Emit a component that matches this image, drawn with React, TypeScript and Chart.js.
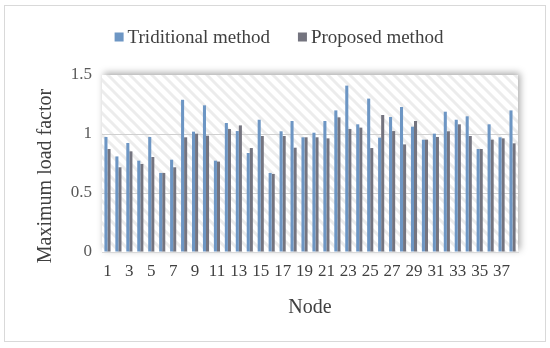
import React, { useEffect, useRef } from 'react';
import { Chart, registerables } from 'chart.js';
Chart.register(...registerables);

const nodes = ['1','2','3','4','5','6','7','8','9','10','11','12','13','14','15','16','17','18','19','20','21','22','23','24','25','26','27','28','29','30','31','32','33','34','35','36','37','38'];
const traditional = [0.975,0.81,0.924,0.774,0.975,0.67,0.782,1.29,1.02,1.243,0.774,1.093,1.025,0.839,1.121,0.67,1.023,1.11,0.972,1.011,1.11,1.2,1.41,1.082,1.3,0.969,1.144,1.229,1.062,0.952,1.003,1.189,1.121,1.15,0.873,1.082,0.972,1.2];
const proposed = [0.873,0.718,0.853,0.746,0.805,0.67,0.718,0.972,1.003,0.986,0.766,1.042,1.073,0.881,0.983,0.661,0.983,0.884,0.972,0.972,0.963,1.141,1.042,1.054,0.881,1.161,1.025,0.912,1.11,0.952,0.975,1.023,1.082,0.983,0.873,0.952,0.963,0.921];
const seriesNames = ['Triditional method', 'Proposed method'];
const seriesColors = ['#6d96c4', '#74747f'];
const yTitle = 'Maximum load factor';
const xTitle = 'Node';

const FONT = "'Liberation Serif', 'Times New Roman', serif";

export default function App() {
  const ref = useRef<HTMLCanvasElement>(null);
  useEffect(() => {
    document.body.style.margin = '0';
    const canvas = ref.current!;
    const tile = document.createElement('canvas');
    const s = 11;
    tile.width = s; tile.height = s;
    const tc = tile.getContext('2d')!;
    tc.fillStyle = '#ffffff'; tc.fillRect(0, 0, s, s);
    tc.strokeStyle = '#ececec'; tc.lineWidth = 3;
    for (const c of [-s, 0, s]) {
      tc.beginPath(); tc.moveTo(c - s, -s); tc.lineTo(c + 2 * s, 2 * s); tc.stroke();
    }
    const bgPlugin = {
      id: 'bgPlugin',
      beforeDraw(chart: any) {
        const c = chart.ctx; const a = chart.chartArea;
        c.save();
        c.fillStyle = '#ffffff'; c.fillRect(0, 0, chart.width, chart.height);
        c.strokeStyle = '#d9d9d9'; c.lineWidth = 1; c.strokeRect(4.5, 5.5, 541, 336);
        c.shadowColor = 'rgba(0,0,0,0.35)'; c.shadowBlur = 7; c.shadowOffsetX = 2; c.shadowOffsetY = -2;
        c.fillStyle = '#ffffff'; c.fillRect(a.left, a.top, a.right - a.left, a.bottom - a.top);
        c.shadowColor = 'transparent'; c.shadowBlur = 0; c.shadowOffsetX = 0; c.shadowOffsetY = 0;
        c.fillStyle = c.createPattern(tile, 'repeat');
        c.fillRect(a.left, a.top, a.right - a.left, a.bottom - a.top);
        c.restore();
      },
      afterDraw(chart: any) {
        const c = chart.ctx;
        c.save();
        c.font = `19px ${FONT}`;
        c.textBaseline = 'middle';
        c.textAlign = 'left';
        const box = 9, gapBT = 4, gapItems = 28;
        const widths = seriesNames.map((n) => c.measureText(n).width);
        const total = widths.reduce((p, w) => p + box + gapBT + w, 0) + gapItems * (seriesNames.length - 1);
        let x = 279 - total / 2;
        const ly = 37;
        seriesNames.forEach((n, i) => {
          c.fillStyle = seriesColors[i];
          c.fillRect(x, ly - box / 2, box, box);
          c.fillStyle = '#404040';
          c.fillText(n, x + box + gapBT, ly + 1);
          x += box + gapBT + widths[i] + gapItems;
        });
        c.translate(46, 176);
        c.rotate(-Math.PI / 2);
        c.textAlign = 'center';
        c.font = `20px ${FONT}`;
        c.fillStyle = '#404040';
        c.fillText(yTitle, 0, 0);
        c.restore();
      },
    };
    const chart = new Chart(canvas, {
      type: 'bar',
      data: {
        labels: nodes,
        datasets: [
          { label: seriesNames[0], data: traditional, backgroundColor: seriesColors[0], categoryPercentage: 0.56, barPercentage: 1 },
          { label: seriesNames[1], data: proposed, backgroundColor: seriesColors[1], categoryPercentage: 0.56, barPercentage: 1 },
        ],
      },
      options: {
        responsive: false,
        animation: false,
        layout: { padding: { top: 75, left: 0, right: 32, bottom: 0 } },
        plugins: { legend: { display: false }, tooltip: { enabled: false } },
        scales: {
          x: {
            grid: { display: false, drawTicks: false },
            border: { display: true, color: '#d9d9d9' },
            ticks: {
              autoSkip: false, maxRotation: 0, minRotation: 0, padding: 9,
              color: '#404040', font: { family: FONT, size: 17 },
              callback: (_v: any, i: number) => (i % 2 === 0 ? nodes[i] : ''),
            },
            title: { display: true, text: xTitle, color: '#404040', font: { family: FONT, size: 20 }, padding: { top: 0, bottom: 28 } },
            afterFit: (sc: any) => { sc.height = 96; },
          },
          y: {
            min: 0, max: 1.5,
            grid: { drawTicks: false, color: (ctx: any) => (ctx.tick && (ctx.tick.value === 0.5 || ctx.tick.value === 1) ? '#d0d0d0' : 'rgba(0,0,0,0)') },
            border: { display: false },
            ticks: { stepSize: 0.5, padding: 10, color: '#595959', font: { family: FONT, size: 17 }, callback: (v: any) => String(v) },
            afterFit: (sc: any) => { sc.width = 102; },
          },
        },
      },
      plugins: [bgPlugin],
    } as any);
    return () => chart.destroy();
  }, []);
  return (
    <div style={{ width: 550, height: 348 }}>
      <canvas ref={ref} width={550} height={348} />
    </div>
  );
}
